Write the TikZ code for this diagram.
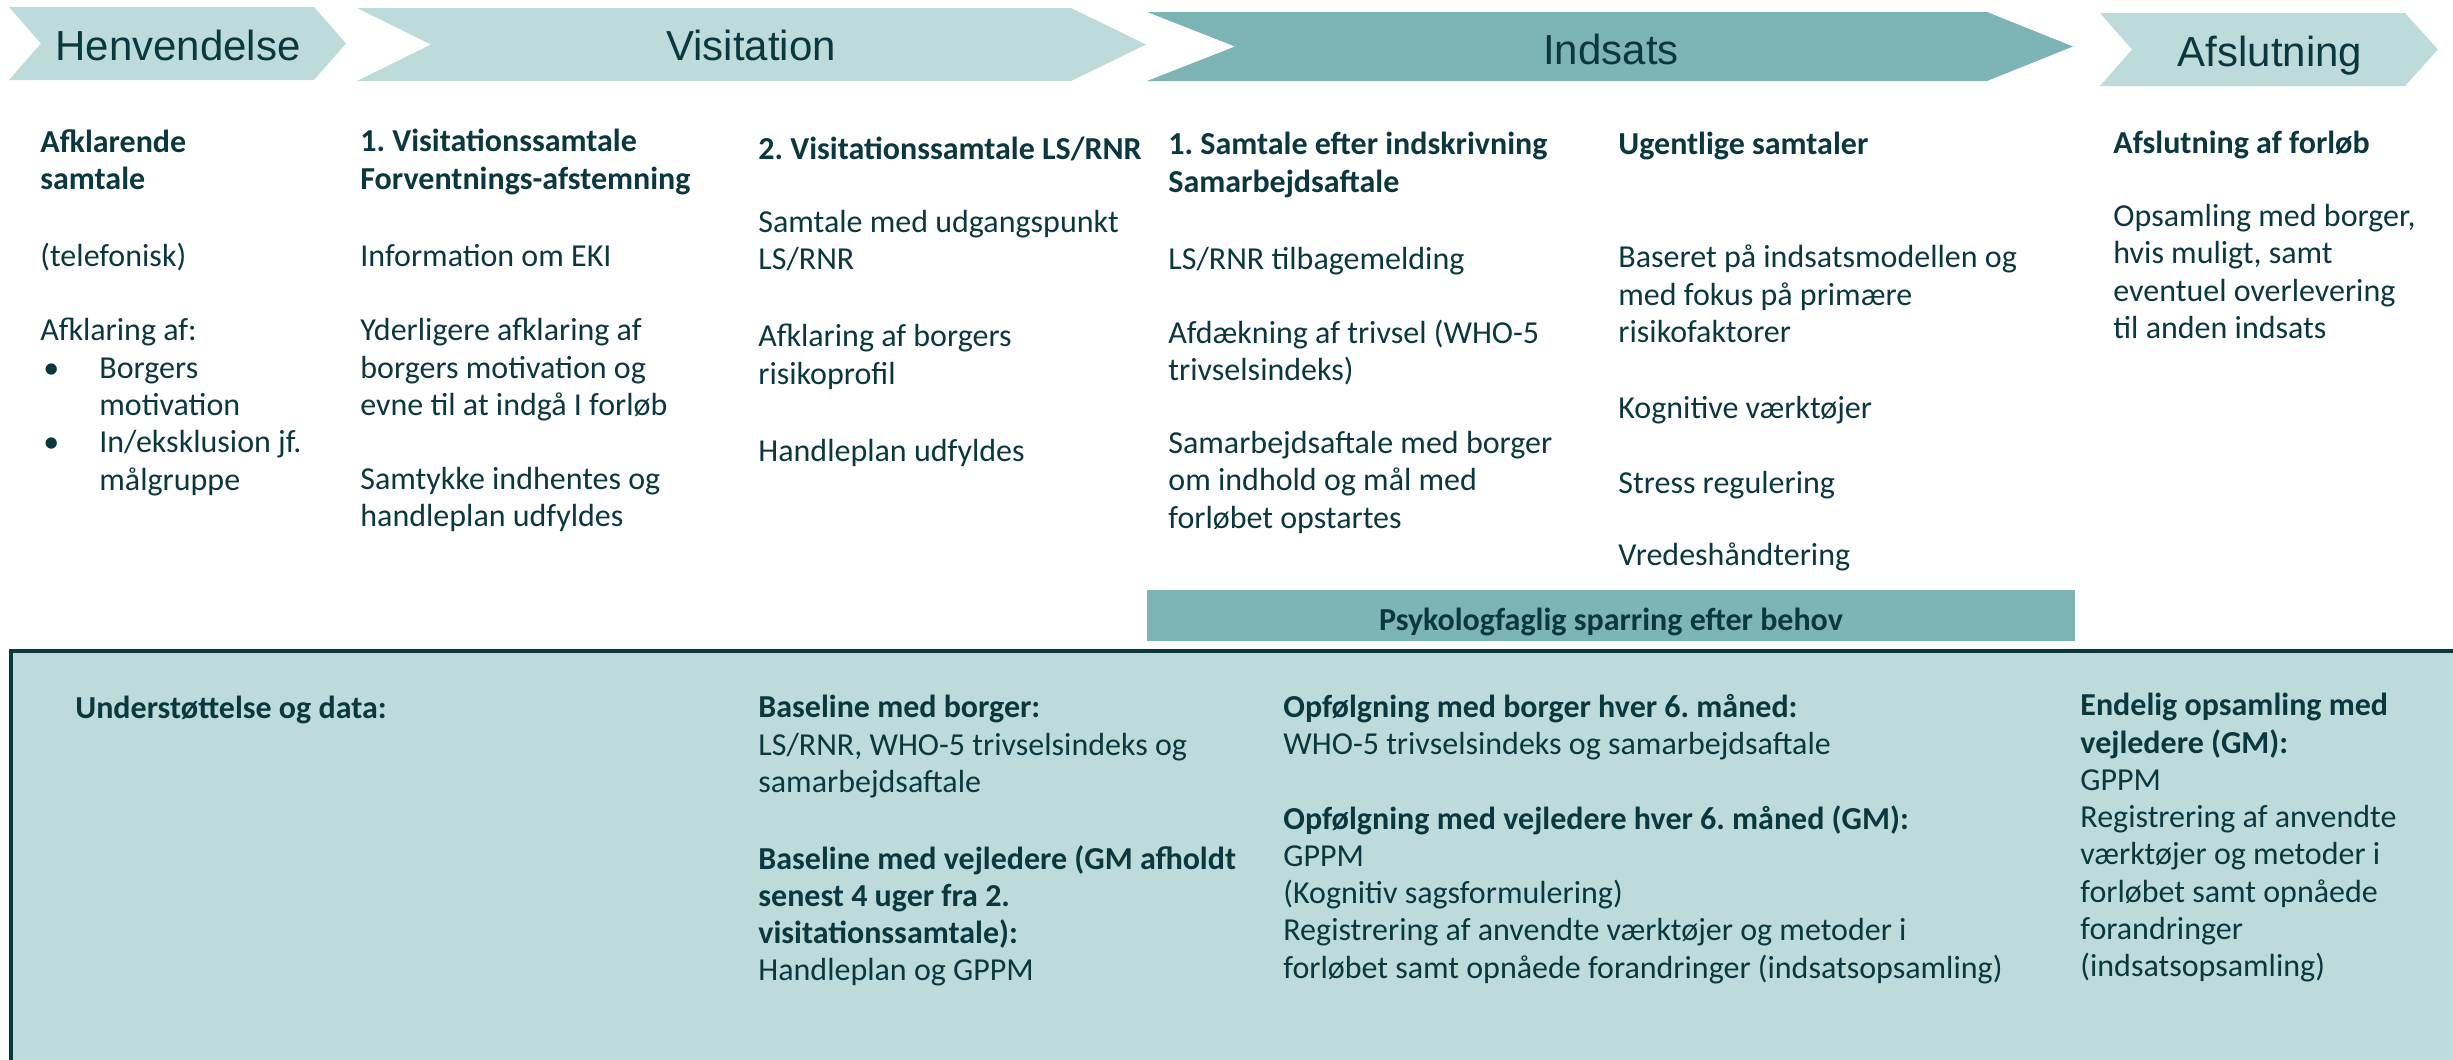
\documentclass[tikz,border=0pt]{standalone}
\usepackage{fontspec}
\setmainfont{Carlito}
\newfontfamily\hdfont{Liberation Sans}
\definecolor{lightteal}{RGB}{189,219,219}
\definecolor{midteal}{RGB}{125,181,183}
\definecolor{dk}{RGB}{10,56,62}
\frenchspacing
\newcommand\bodyfont{\fontsize{16pt}{18.65pt}\selectfont\frenchspacing}
\newcommand\headfont{\hdfont\fontsize{21pt}{25pt}\selectfont}
\newcommand\bul{\makebox[29.5pt][l]{\hspace{1.5pt}•}}
\newcommand\ind{\hspace*{29.5pt}}
\tikzset{
  txt/.style={anchor=north west, inner sep=0pt, align=left, font=\bodyfont, text=dk, execute at begin node=\strut, yshift=-2.5pt},
  bold/.style={txt, font=\bodyfont\bfseries},
  hdr/.style={anchor=base, inner sep=0pt, font=\headfont, text=dk},
  lightchev/.style={fill=lightteal},
  midchev/.style={fill=midteal}
}
\begin{document}
\begin{tikzpicture}[x=0.5pt,y=-0.5pt]
\useasboundingbox (0,0) rectangle (2453,1060);
% chevrons
\path[lightchev] (9,7) -- (314,7) -- (346,43.5) -- (314,80) -- (9,80) -- (41,43.5) -- cycle;
\path[lightchev] (357,8) -- (1071,8) -- (1146,44.5) -- (1071,81) -- (357,81) -- (431,44.5) -- cycle;
\path[midchev] (1147,12) -- (1987,12) -- (2073,46.5) -- (1987,81) -- (1147,81) -- (1235,46.5) -- cycle;
\path[lightchev] (2100,13) -- (2405,13) -- (2438,49.5) -- (2405,86) -- (2100,86) -- (2132,49.5) -- cycle;
\node[hdr] (h1) at (178,60) {Henvendelse};
\node[hdr] (h2) at (751,61) {Visitation};
\node[hdr] (h3) at (1611,64) {Indsats};
\node[hdr] (h4) at (2270,66) {Afslutning};
% column 1
\node[bold] (n11) at (40,123.9) {Afklarende\\samtale};
\node[txt] (n12) at (40,234.9) {(telefonisk)};
\node[txt] (n13) at (40,312.9) {Afklaring af:\\\bul Borgers\\\ind motivation\\\bul In/eksklusion jf.\\\ind målgruppe};
% column 2
\node[bold] (n21) at (360,123.9) {1. Visitationssamtale\\Forventnings-afstemning};
\node[txt] (n22) at (360,234.9) {Information om EKI};
\node[txt] (n23) at (360,312.9) {Yderligere afklaring af\\borgers motivation og\\evne til at indgå I forløb};
\node[txt] (n24) at (360,461.9) {Samtykke indhentes og\\handleplan udfyldes};
% column 3
\node[bold] (n31) at (758,127.9) {2. Visitationssamtale LS/RNR};
\node[txt] (n32) at (758,204.9) {Samtale med udgangspunkt\\LS/RNR};
\node[txt] (n33) at (758,318.9) {Afklaring af borgers\\risikoprofil};
\node[txt] (n34) at (758,429.9) {Handleplan udfyldes};
% column 4
\node[bold] (n41) at (1168,126.9) {1. Samtale efter indskrivning\\Samarbejdsaftale};
\node[txt] (n42) at (1168,237.9) {LS/RNR tilbagemelding};
\node[txt] (n43) at (1168,314.9) {Afdækning af trivsel (WHO-5\\trivselsindeks)};
\node[txt] (n44) at (1168,425.9) {Samarbejdsaftale med borger\\om indhold og mål med\\forløbet opstartes};
% column 5
\node[bold] (n51) at (1618,122.9) {Ugentlige samtaler};
\node[txt] (n52) at (1618,239.9) {Baseret på indsatsmodellen og\\med fokus på primære\\risikofaktorer};
\node[txt] (n53) at (1618,386.9) {Kognitive værktøjer};
\node[txt] (n54) at (1618,461.9) {Stress regulering};
\node[txt] (n55) at (1618,533.9) {Vredeshåndtering};
% column 6
\node[bold] (n61) at (2113,121.9) {Afslutning af forløb};
\node[txt] (n62) at (2113,198.9) {Opsamling med borger,\\hvis muligt, samt\\eventuel overlevering\\til anden indsats};
% psychologist bar
\path[fill=midteal] (1147,590) rectangle (2075,641);
\node[anchor=base, inner sep=0pt, font=\bodyfont\bfseries, text=dk] (psy) at (1611,630) {Psykologfaglig sparring efter behov};
% bottom box
\begin{scope}
\clip (0,0) rectangle (2453,1060);
\draw[line width=2pt, draw=dk, fill=lightteal] (10.5,650.5) rectangle (2490,1100);
\end{scope}
\node[bold] (b1) at (75,686.9) {Understøttelse og data:};
\node[txt] (b31) at (758,689.9) {\textbf{Baseline med borger:}\\LS/RNR, WHO-5 trivselsindeks og\\samarbejdsaftale};
\node[txt] (b32) at (758,839.9) {\textbf{Baseline med vejledere (GM afholdt}\\\textbf{senest 4 uger fra 2.}\\\textbf{visitationssamtale):}\\Handleplan og GPPM};
\node[txt] (b41) at (1283,688.9) {\textbf{Opfølgning med borger hver 6. måned:}\\WHO-5 trivselsindeks og samarbejdsaftale};
\node[txt] (b42) at (1283,799.9) {\textbf{Opfølgning med vejledere hver 6. måned (GM):}\\GPPM\\(Kognitiv sagsformulering)\\Registrering af anvendte værktøjer og metoder i\\forløbet samt opnåede forandringer (indsatsopsamling)};
\node[txt] (b61) at (2080,687.9) {\textbf{Endelig opsamling med}\\\textbf{vejledere (GM):}\\GPPM\\Registrering af anvendte\\værktøjer og metoder i\\forløbet samt opnåede\\forandringer\\(indsatsopsamling)};
\end{tikzpicture}
\end{document}
